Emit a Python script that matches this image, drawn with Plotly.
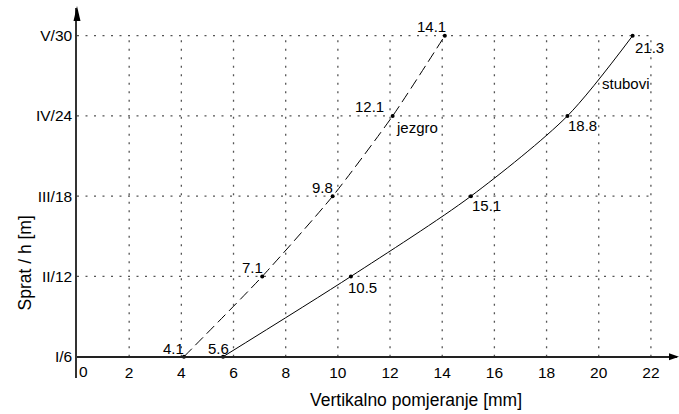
import plotly.graph_objects as go

# ---- data ----
floors = [6, 12, 18, 24, 30]
floor_labels = ["I/6", "II/12", "III/18", "IV/24", "V/30"]
jezgro = [4.1, 7.1, 9.8, 12.1, 14.1]
stubovi = [5.6, 10.5, 15.1, 18.8, 21.3]
x_ticks = [2, 4, 6, 8, 10, 12, 14, 16, 18, 20, 22]

# ---- geometry ----
W, H = 679, 414
ML, MR, MT, MB = 77, 2, 8, 36
PW, PH = W - ML - MR, H - MT - MB
XR = [0, 23]
YR = [4.407, 32.071]
FONT = "Liberation Sans, Arial, sans-serif"
FS_LAB = 15
FS_TICK = 15.5
FS_TITLE = 17.5

def px2paper(px, py):
    return (px - ML) / PW, (H - MB - py) / PH

fig = go.Figure()

fig.add_trace(go.Scatter(
    x=jezgro, y=floors, mode="lines+markers", name="jezgro",
    line=dict(color="black", width=1, dash="11px,5px", shape="spline", smoothing=0.6),
    marker=dict(size=4, color="black"), hoverinfo="skip", cliponaxis=False))
fig.add_trace(go.Scatter(
    x=stubovi, y=floors, mode="lines+markers", name="stubovi",
    line=dict(color="black", width=1, shape="spline", smoothing=0.8),
    marker=dict(size=4, color="black"), hoverinfo="skip", cliponaxis=False))

shapes = []
grid = dict(color="#555", width=1.3, dash="2px,6.5px")
for xv in x_ticks:
    shapes.append(dict(type="line", xref="x", yref="y", x0=xv, x1=xv,
                       y0=floors[0], y1=floors[-1], line=grid, layer="below"))
for yv in floors[1:]:
    shapes.append(dict(type="line", xref="x", yref="y", x0=0, x1=x_ticks[-1],
                       y0=yv, y1=yv, line=grid, layer="below"))

# arrow heads
def tri(pts):
    p = [px2paper(*q) for q in pts]
    return "M {} {} L {} {} L {} {} Z".format(p[0][0], p[0][1], p[1][0], p[1][1], p[2][0], p[2][1])

shapes.append(dict(type="path", xref="paper", yref="paper",
                   path=tri([(77, 6), (73.5, 21), (80.5, 21)]),
                   fillcolor="black", line=dict(width=0)))
shapes.append(dict(type="path", xref="paper", yref="paper",
                   path=tri([(679, 356.7), (669, 353.2), (669, 360.2)]),
                   fillcolor="black", line=dict(width=0)))

annotations = []
lab_font = dict(family=FONT, size=FS_LAB, color="black")
j_off = [(-10, -8), (-10, -9), (-10, -9), (-23, -9), (-13.6, -9.7)]
s_off = [(-5, -8), (12, 11), (15.7, 8.8), (15.3, 10), (16.7, 11.8)]
for xv, yv, (dx, dy) in zip(jezgro, floors, j_off):
    annotations.append(dict(x=xv, y=yv, xref="x", yref="y", text=f"{xv}",
                            showarrow=False, xanchor="center", yanchor="middle",
                            xshift=dx, yshift=-dy, font=lab_font))
for xv, yv, (dx, dy) in zip(stubovi, floors, s_off):
    annotations.append(dict(x=xv, y=yv, xref="x", yref="y", text=f"{xv}",
                            showarrow=False, xanchor="center", yanchor="middle",
                            xshift=dx, yshift=-dy, font=lab_font))
# series names
annotations.append(dict(x=jezgro[3], y=floors[3], xref="x", yref="y", text="jezgro",
                        showarrow=False, xanchor="left", yanchor="middle",
                        xshift=1.5, yshift=-11.2, font=lab_font))
annotations.append(dict(x=stubovi[4], y=floors[4], xref="x", yref="y", text="stubovi",
                        showarrow=False, xanchor="left", yanchor="middle",
                        xshift=-32.6, yshift=-48, font=lab_font))
# "0" tick label (shifted right of the axis)
annotations.append(dict(x=0, y=floors[0], xref="x", yref="y", text="0",
                        showarrow=False, xanchor="center", yanchor="middle",
                        xshift=6.5, yshift=-15.3, font=dict(family=FONT, size=FS_TICK, color="black")))
# axis titles
annotations.append(dict(x=px2paper(415.5, 0)[0], y=px2paper(0, 400)[1], xref="paper", yref="paper",
                        text="Vertikalno pomjeranje [mm]", showarrow=False,
                        xanchor="center", yanchor="middle",
                        font=dict(family=FONT, size=FS_TITLE, color="black")))
annotations.append(dict(x=px2paper(24.5, 0)[0], y=px2paper(0, 263)[1], xref="paper", yref="paper",
                        text="Sprat / h [m]", showarrow=False, textangle=-90,
                        xanchor="center", yanchor="middle",
                        font=dict(family=FONT, size=FS_TITLE, color="black")))

x0_pos = px2paper(0, 356.7)[1]

fig.update_layout(
    width=W, height=H, margin=dict(l=ML, r=MR, t=MT, b=MB),
    paper_bgcolor="white", plot_bgcolor="white", showlegend=False,
    font=dict(family=FONT, size=FS_TICK, color="black"),
    xaxis=dict(range=XR, showgrid=False, zeroline=False, showline=True,
               linecolor="#222", linewidth=1.5, anchor="free", position=x0_pos,
               tickmode="array", tickvals=x_ticks, ticktext=[str(v) for v in x_ticks],
               ticks="", ticklabelstandoff=2, tickfont=dict(family=FONT, size=FS_TICK)),
    yaxis=dict(range=YR, showgrid=False, zeroline=False, showline=True,
               linecolor="#333", linewidth=1.5,
               tickmode="array", tickvals=floors, ticktext=floor_labels,
               ticks="", ticklabelstandoff=0, tickfont=dict(family=FONT, size=FS_TICK)),
    shapes=shapes, annotations=annotations,
)

fig.write_html("out.html")
